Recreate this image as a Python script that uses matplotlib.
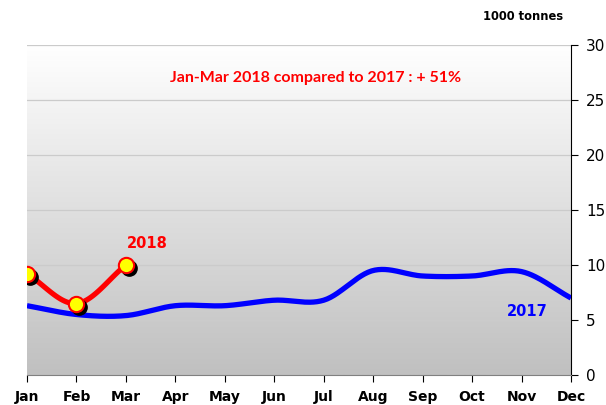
import numpy as np
import matplotlib
matplotlib.use("Agg")
import matplotlib.pyplot as plt
from matplotlib.colors import LinearSegmentedColormap
from matplotlib.transforms import offset_copy

months = ["Jan", "Feb", "Mar", "Apr", "May", "Jun", "Jul", "Aug", "Sep", "Oct", "Nov", "Dec"]
values_2017 = [6.3, 5.5, 5.4, 6.3, 6.3, 6.8, 6.8, 9.5, 9.0, 9.0, 9.4, 7.0]
values_2018 = [9.2, 6.5, 10.0]
y_ticks = [0, 5, 10, 15, 20, 25, 30]

plt.rcParams['font.family'] = ['DejaVu Sans']


def smooth(xs, ys, n=30):
    # Catmull-Rom style smoothing (like spreadsheet smoothed lines)
    xs = np.asarray(xs, float)
    ys = np.asarray(ys, float)
    px = np.concatenate([[2 * xs[0] - xs[1]], xs, [2 * xs[-1] - xs[-2]]])
    py = np.concatenate([[2 * ys[0] - ys[1]], ys, [2 * ys[-1] - ys[-2]]])
    ox, oy = [], []
    for i in range(1, len(px) - 2):
        t = np.linspace(0, 1, n)
        p0, p1, p2, p3 = (np.array([px[j], py[j]]) for j in range(i - 1, i + 3))
        c1 = p1 + (p2 - p0) / 6
        c2 = p2 - (p3 - p1) / 6
        pts = ((1 - t)[:, None] ** 3 * p1 + 3 * ((1 - t) ** 2 * t)[:, None] * c1
               + 3 * ((1 - t) * t ** 2)[:, None] * c2 + (t ** 3)[:, None] * p2)
        ox.extend(pts[:, 0]); oy.extend(pts[:, 1])
    return np.array(ox), np.array(oy)


fig = plt.figure(figsize=(6.06, 4.05), dpi=100)
ax = fig.add_axes([27 / 606, 30 / 405, (571 - 27) / 606, (375 - 45) / 405])

x17 = np.arange(len(values_2017))
x18 = np.arange(len(values_2018))

ax.set_xlim(0, 11)
ax.set_ylim(0, 30)

# gradient background
grad = np.linspace(0, 1, 256).reshape(-1, 1)
cmap = LinearSegmentedColormap.from_list("bg", ["#c0c0c0", "#ffffff"])
ax.imshow(grad, extent=[0, 11, 0, 30], origin="lower", aspect="auto", cmap=cmap, zorder=0)

for yv in y_ticks[1:]:
    ax.axhline(yv, color="#cbcbcb", lw=0.9, zorder=1)

sx, sy = smooth(x17, values_2017)
ax.plot(sx, sy, color="#0000ff", lw=3.8, zorder=3, solid_capstyle="butt")

sx2, sy2 = smooth(x18, values_2018)
ax.plot(sx2, sy2, color="#ff0000", lw=3.8, zorder=4, solid_capstyle="butt")

# shadow markers
shadow_tr = offset_copy(ax.transData, fig=fig, x=3, y=-3, units="dots")
ax.plot(x18, values_2018, 'o', ms=11, color="black", transform=shadow_tr, zorder=5)
ax.plot(x18, values_2018, 'o', ms=11, mfc="#ffff00", mec="#ff0000", mew=1.5, zorder=6, ls="none")

ax.yaxis.tick_right()
ax.set_yticks(y_ticks)
ax.set_xticks(x17)
ax.set_xticklabels(months, fontweight="bold", fontsize=10)
ax.tick_params(axis="x", length=5, direction="out", pad=6)
ax.tick_params(axis="y", length=5, direction="out", labelsize=11, pad=6)

for s in ["top", "left"]:
    ax.spines[s].set_visible(False)
ax.spines["right"].set_color("black")
ax.spines["bottom"].set_color("#808080")

ax.text(5.84, 27.0, "Jan-Mar 2018 compared to 2017 : + 51%",
        color="#ff0000", family=["Lato", "DejaVu Sans"],
        fontweight="bold", fontsize=11.5, ha="center", va="center", zorder=7)
ax.text(2.43, 12.0, "2018", color="#ff0000", fontweight="bold", fontsize=10.5,
        ha="center", va="center", zorder=7)
ax.text(10.11, 5.8, "2017", color="#0000ff", fontweight="bold", fontsize=10.5,
        ha="center", va="center", zorder=7)
fig.text(523 / 606, 1 - 17 / 405, "1000 tonnes", color="black", fontweight="bold",
         fontsize=8.3, ha="center", va="center")

fig.savefig("out.png", dpi=100)
